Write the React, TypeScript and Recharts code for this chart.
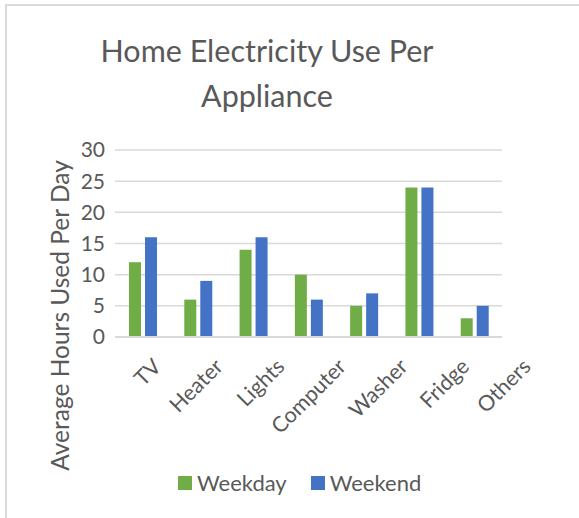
import { Bar, BarChart, CartesianGrid, Legend, XAxis, YAxis } from "recharts";

const appliances = ["TV", "Heater", "Lights", "Computer", "Washer", "Fridge", "Others"];
const weekday = [12, 6, 14, 10, 5, 24, 3];
const weekend = [16, 9, 16, 6, 7, 24, 5];
const yTicks = [0, 5, 10, 15, 20, 25, 30];

const data = appliances.map((name, i) => ({
  name,
  Weekday: weekday[i],
  Weekend: weekend[i],
}));

const FONT = "Lato, 'Open Sans', sans-serif";
const TEXT = "#595959";
const GREEN = "#70AD47";
const BLUE = "#4472C4";
const GRID = "#d9d9d9";

// rotated category labels, Excel-style
function AngledTick(props: any) {
  const { x, y, payload, index } = props;
  const dx = 20 + index * 6.3;
  return (
    <g transform={`translate(${x + dx},${y + 23})`}>
      <text
        transform="rotate(-45)"
        textAnchor="end"
        fill={TEXT}
        fontSize={21.5}
        fontFamily={FONT}
      >
        {payload.value}
      </text>
    </g>
  );
}

function AxisTitle(props: any) {
  const { viewBox } = props;
  const cx = viewBox.x + 4;
  const cy = viewBox.y + viewBox.height / 2 + 72;
  return (
    <text
      x={cx}
      y={cy}
      transform={`rotate(-90, ${cx}, ${cy})`}
      textAnchor="middle"
      dominantBaseline="central"
      fill={TEXT}
      fontSize={24.5}
      fontFamily={FONT}
    >
      Average Hours Used Per Day
    </text>
  );
}

function LegendBox() {
  const items = [
    { label: "Weekday", color: GREEN },
    { label: "Weekend", color: BLUE },
  ];
  return (
    <div style={{ display: "flex", alignItems: "center", fontFamily: FONT, fontSize: 22, color: TEXT }}>
      {items.map((it) => (
        <div key={it.label} style={{ display: "flex", alignItems: "center", marginRight: 24 }}>
          <span style={{ display: "inline-block", width: 14, height: 14, background: it.color, marginRight: 5 }} />
          <span>{it.label}</span>
        </div>
      ))}
    </div>
  );
}

export default function App() {
  return (
    <div
      style={{
        position: "absolute",
        left: 0,
        top: 0,
        width: 579,
        height: 518,
        background: "#fff",
        overflow: "hidden",
      }}
    >
      {/* frame (only top and left edges show in the crop) */}
      <div
        style={{
          position: "absolute",
          left: 5,
          top: 4,
          width: 600,
          height: 600,
          borderTop: `2px solid ${GRID}`,
          borderLeft: `2px solid ${GRID}`,
        }}
      />
      <svg width={579} height={130} style={{ position: "absolute", left: 0, top: 0 }}>
        <text x={267} y={62} textAnchor="middle" fill={TEXT} fontSize={30.5} fontFamily={FONT}>
          Home Electricity Use Per
        </text>
        <text x={267} y={107} textAnchor="middle" fill={TEXT} fontSize={30.5} fontFamily={FONT}>
          Appliance
        </text>
      </svg>
      <div style={{ position: "absolute", left: 0, top: 0 }}>
        <BarChart
          width={579}
          height={518}
          data={data}
          margin={{ top: 150, right: 77, bottom: 151, left: 55 }}
          barSize={12}
          barGap={4}
        >
          <CartesianGrid vertical={false} stroke={GRID} strokeWidth={1.5} />
          <XAxis
            dataKey="name"
            height={30}
            axisLine={{ stroke: GRID, strokeWidth: 2 }}
            tickLine={false}
            interval={0}
            tick={<AngledTick />}
          />
          <YAxis
            width={60}
            domain={[0, 30]}
            ticks={yTicks}
            interval={0}
            axisLine={false}
            tickLine={false}
            tickSize={0}
            tickMargin={10}
            tick={{ fill: TEXT, fontSize: 21, fontFamily: FONT }}
            label={<AxisTitle />}
          />
          <Legend
            layout="horizontal"
            verticalAlign="middle"
            align="center"
            content={<LegendBox />}
            wrapperStyle={{ top: 469, left: 178, width: 320 }}
          />
          <Bar dataKey="Weekday" fill={GREEN} isAnimationActive={false} />
          <Bar dataKey="Weekend" fill={BLUE} isAnimationActive={false} />
        </BarChart>
      </div>
    </div>
  );
}
